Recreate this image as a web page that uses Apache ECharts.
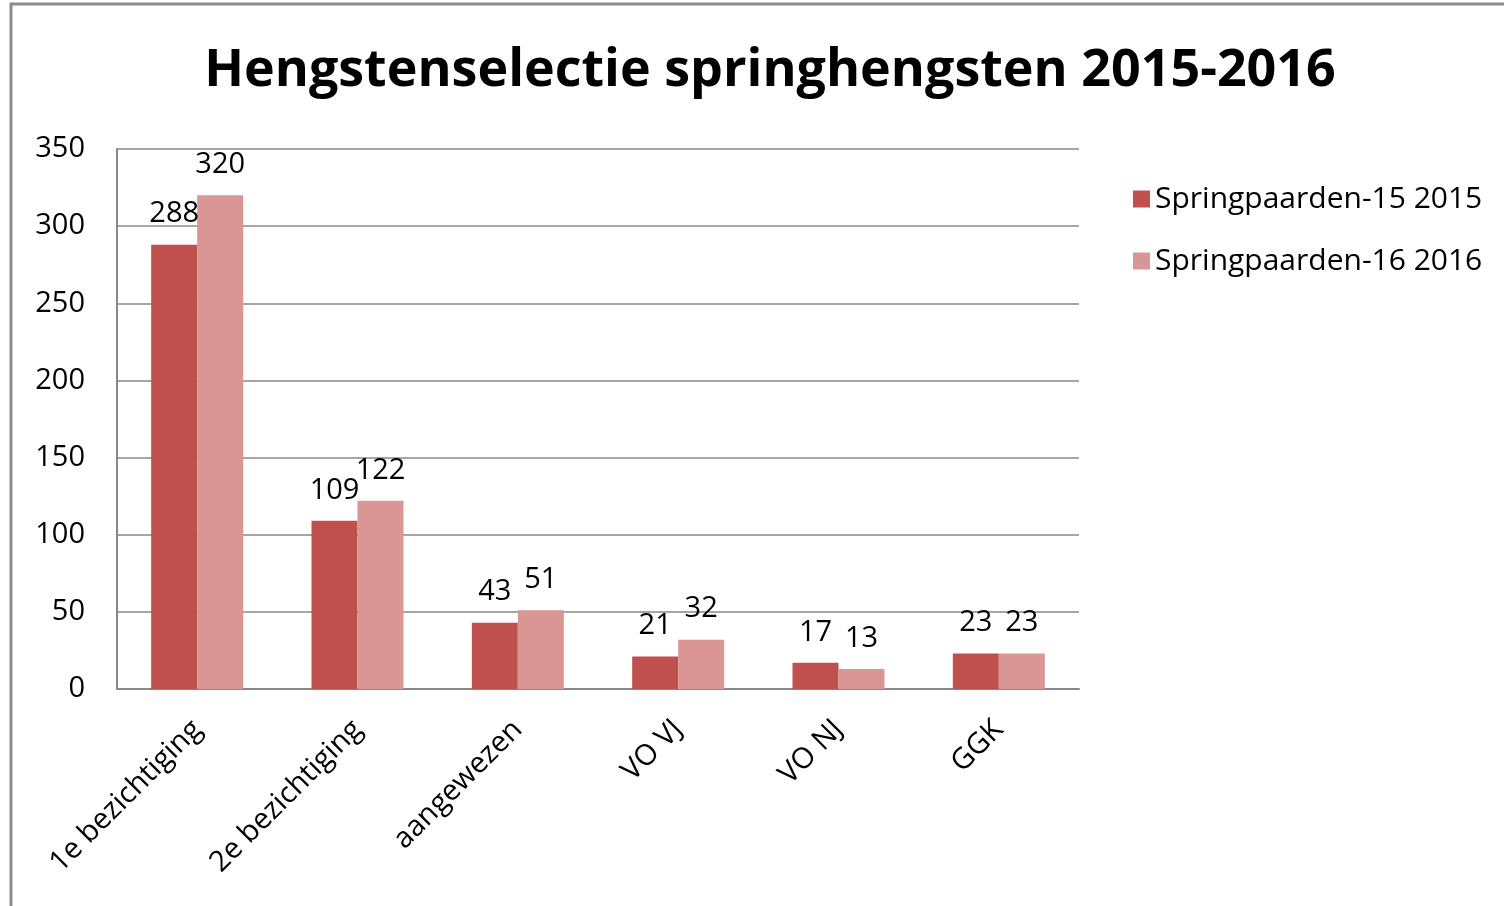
<!DOCTYPE html>
<html style="height: 100%">
<head>
    <meta charset="utf-8">
    <title>Hengstenselectie springhengsten 2015-2016</title>
    <script src="https://cdn.jsdelivr.net/npm/echarts/dist/echarts.min.js"></script>
</head>
<body style="height: 100%; margin: 0; background: #fff">
    <div id="main" style="width: 1504px; height: 906px"></div>
    <script type="text/javascript">
        var categories = ['1e bezichtiging', '2e bezichtiging', 'aangewezen', 'VO VJ', 'VO NJ', 'GGK'];
        var seriesNames = ['Springpaarden-15 2015', 'Springpaarden-16 2016'];
        var values2015 = [288, 109, 43, 21, 17, 23];
        var values2016 = [320, 122, 51, 32, 13, 23];

        var font = '"Open Sans", Lato, sans-serif';
        var myChart = echarts.init(document.getElementById('main'));

        var labelStyle = {
            show: true,
            position: 'top',
            distance: 16,
            color: '#000',
            fontSize: 29,
            fontFamily: font
        };

        var option = {
            animation: false,
            backgroundColor: '#fff',
            title: {
                text: 'Hengstenselectie springhengsten 2015-2016',
                left: 765,
                textAlign: 'center',
                top: 40,
                textStyle: {
                    fontSize: 52,
                    fontWeight: 'bold',
                    fontFamily: font,
                    color: '#000'
                }
            },
            legend: {
                orient: 'vertical',
                left: 1128,
                top: 179,
                itemWidth: 17,
                itemHeight: 17,
                itemGap: 32,
                icon: 'rect',
                textStyle: { fontSize: 30, fontFamily: font, color: '#000' },
                data: seriesNames
            },
            grid: {
                left: 117,
                right: 425,
                top: 149,
                bottom: 217,
                containLabel: false
            },
            xAxis: {
                type: 'category',
                data: categories,
                axisLine: { lineStyle: { color: '#888', width: 2 } },
                axisTick: { show: false },
                axisLabel: {
                    rotate: 45,
                    interval: 0,
                    margin: 36,
                    color: '#000',
                    fontSize: 29,
                    fontFamily: font
                }
            },
            yAxis: {
                type: 'value',
                min: 0,
                max: 350,
                interval: 50,
                axisLine: { show: true, lineStyle: { color: '#888', width: 2 } },
                axisTick: { show: false },
                splitLine: { lineStyle: { color: '#888', width: 1.5 } },
                axisLabel: {
                    margin: 32,
                    color: '#000',
                    fontSize: 29,
                    fontFamily: font
                }
            },
            graphic: [
                {
                    type: 'polyline',
                    shape: { points: [[11, 906], [11, 4], [1504, 4]] },
                    style: { stroke: '#8c8c8c', lineWidth: 3, fill: null }
                }
            ],
            series: [
                {
                    name: seriesNames[0],
                    type: 'bar',
                    data: values2015,
                    barWidth: 46,
                    barGap: '0%',
                    itemStyle: { color: '#C0504D' },
                    label: labelStyle
                },
                {
                    name: seriesNames[1],
                    type: 'bar',
                    data: values2016,
                    barWidth: 46,
                    barGap: '0%',
                    itemStyle: { color: '#D99694' },
                    label: labelStyle
                }
            ]
        };

        myChart.setOption(option);
    </script>
</body>
</html>
